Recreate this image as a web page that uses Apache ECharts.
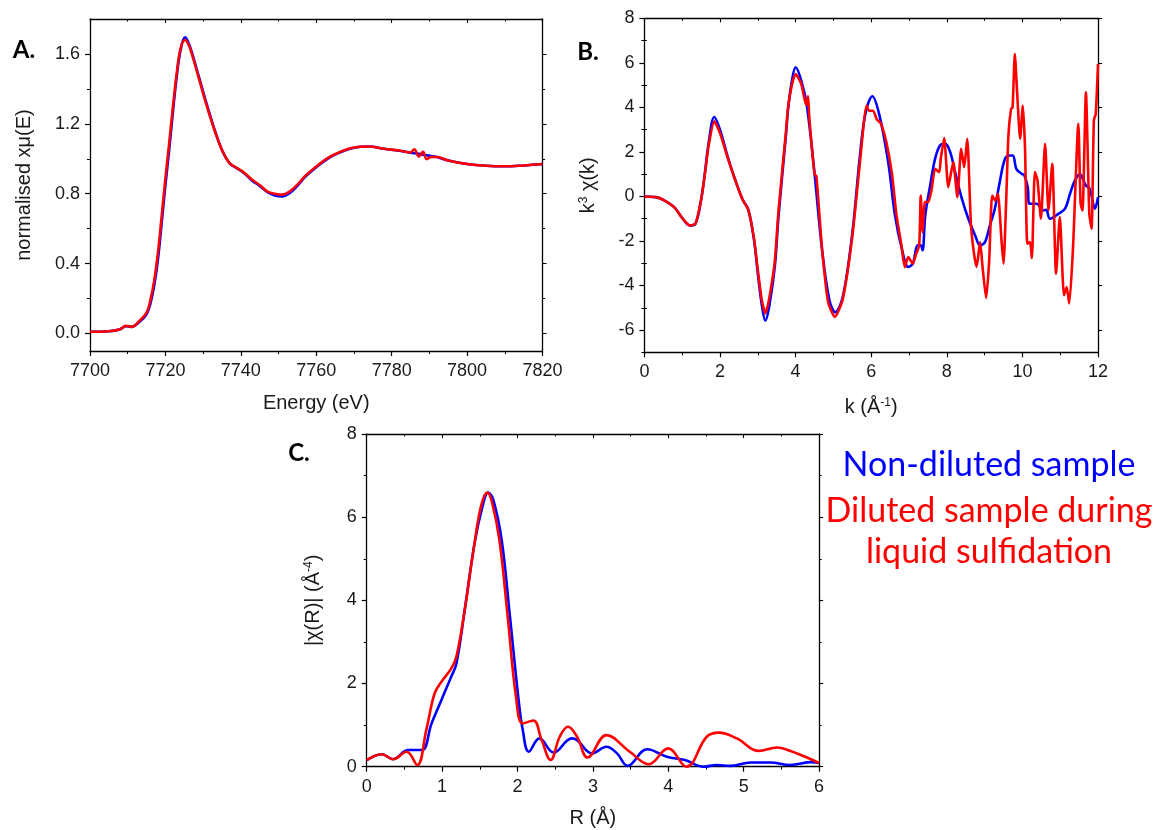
<!DOCTYPE html>
<html>
<head>
<meta charset="utf-8">
<script src="https://cdn.jsdelivr.net/npm/echarts@6/dist/echarts.min.js"></script>
<style>
html,body{margin:0;padding:0;background:#fff;}
#chart{width:1157px;height:830px;}
</style>
</head>
<body>
<div id="chart"></div>
<script>
// ---------- Panel A: normalised XANES ----------
const aEnergy = [7700,7705,7708,7709.5,7711,7713,7715,7716,7717,7718,7719,7720,7721,7722,7723,7724,7725.2,7726,7727,7729,7731,7733,7735,7737,7739,7741,7743,7745,7747,7749,7751,7753,7755,7757,7760,7763,7766,7770,7774,7778,7782,7785,7786,7787.2,7788.3,7789.3,7790.5,7792,7795,7800,7805,7810,7815,7820];
const aBlue   = [0.01,0.013,0.025,0.042,0.038,0.065,0.11,0.17,0.27,0.42,0.63,0.85,1.05,1.27,1.47,1.62,1.695,1.67,1.61,1.46,1.31,1.17,1.05,0.975,0.945,0.915,0.875,0.845,0.81,0.79,0.785,0.805,0.845,0.895,0.952,1.0,1.034,1.063,1.07,1.057,1.046,1.035,1.032,1.028,1.024,1.02,1.016,1.01,0.99,0.97,0.96,0.957,0.962,0.97];
const aRed    = [0.01,0.013,0.025,0.044,0.038,0.07,0.12,0.19,0.30,0.46,0.67,0.89,1.09,1.30,1.49,1.63,1.68,1.66,1.60,1.45,1.30,1.165,1.05,0.975,0.947,0.918,0.88,0.85,0.814,0.80,0.795,0.814,0.852,0.90,0.956,1.004,1.036,1.065,1.07,1.057,1.047,1.036,1.055,1.013,1.04,0.998,1.01,1.01,0.99,0.97,0.96,0.957,0.962,0.97];

// ---------- Panel B: k3-weighted EXAFS ----------
const bKBlue = [0,0.3,0.5,0.8,1.0,1.2,1.35,1.5,1.6,1.7,1.85,2.0,2.2,2.4,2.6,2.75,2.9,3.0,3.1,3.2,3.3,3.45,3.55,3.75,3.8,3.9,4.0,4.15,4.3,4.5,4.7,4.9,5.05,5.25,5.5,5.7,5.85,6.03,6.22,6.45,6.63,6.81,6.98,7.1,7.23,7.31,7.36,7.43,7.56,7.69,7.82,7.96,8.09,8.22,8.4,8.57,8.75,8.88,9.01,9.14,9.27,9.4,9.54,9.67,9.75,9.84,9.98,10.05,10.14,10.19,10.38,10.56,10.63,10.73,10.95,11.13,11.26,11.39,11.52,11.68,11.78,11.92,12.0];
const bBlue  = [0,-0.03,-0.15,-0.5,-0.97,-1.3,-1.23,-0.15,1.05,2.4,3.57,3.0,1.8,0.75,-0.15,-0.6,-1.95,-3.45,-4.8,-5.58,-4.95,-3.15,-0.85,2.85,3.9,5.17,5.8,5.2,4.05,1.05,-2.4,-4.7,-5.2,-4.5,-1.65,1.8,3.75,4.5,3.63,1.54,-0.85,-2.35,-3.17,-3.02,-2.2,-2.2,-2.42,-0.85,0.49,1.69,2.29,2.36,1.99,1.09,-0.11,-1.0,-1.75,-2.2,-2.05,-1.3,-0.55,0.64,1.69,1.84,1.84,1.24,1.02,0.95,0.42,-0.33,-0.33,-0.63,-0.6,-1.0,-0.78,-0.55,0.12,0.72,0.99,0.49,0.35,-0.55,-0.03];
const bKRed  = [0,0.3,0.5,0.8,1.0,1.2,1.35,1.5,1.6,1.7,1.85,2.0,2.2,2.4,2.6,2.75,2.9,3.0,3.1,3.2,3.3,3.45,3.55,3.75,3.8,3.9,4.0,4.15,4.28,4.33,4.36,4.5,4.55,4.7,4.86,5.04,5.25,5.5,5.7,5.88,5.94,6.05,6.15,6.25,6.4,6.55,6.67,6.8,6.89,6.98,7.1,7.19,7.27,7.31,7.36,7.42,7.51,7.6,7.69,7.8,7.84,7.93,8.04,8.17,8.28,8.38,8.46,8.54,8.64,8.72,8.79,8.88,8.95,9.04,9.12,9.2,9.28,9.35,9.45,9.5,9.57,9.63,9.7,9.74,9.8,9.86,9.94,10.01,10.07,10.13,10.2,10.25,10.33,10.4,10.49,10.6,10.69,10.79,10.89,10.99,11.1,11.17,11.24,11.34,11.48,11.54,11.59,11.68,11.77,11.83,11.89,11.94,12.0];
const bRed   = [0,-0.03,-0.15,-0.5,-0.97,-1.3,-1.23,-0.15,1.0,2.3,3.37,2.85,1.75,0.75,-0.15,-0.6,-1.9,-3.3,-4.6,-5.25,-4.6,-2.9,-0.6,3.0,4.0,5.0,5.5,5.05,4.1,4.5,3.6,1.0,0.9,-2.35,-4.74,-5.41,-4.6,-1.8,1.5,4.08,3.85,3.85,3.45,3.3,2.44,1.0,-0.85,-2.2,-3.17,-2.72,-3.02,-2.57,-2.2,0.04,-1.6,-0.25,-0.25,0.34,1.24,1.09,1.69,2.62,0.42,1.54,-0.03,2.14,1.31,2.59,-1.3,-2.57,-3.17,-2.05,-3.24,-4.56,-2.94,0.04,-0.18,0.12,-2.05,-3.02,-0.25,2.74,3.93,3.99,6.4,4.68,2.59,4.08,2.14,-2.12,-2.05,-2.77,1.09,0.72,-1.0,2.36,-0.63,1.47,-3.47,-0.93,-4.44,-4.07,-4.81,-2.27,3.26,-0.33,-0.63,4.68,-0.78,-1.45,3.41,3.71,5.95];

// ---------- Panel C: Fourier transform magnitude ----------
const cRBlue = [0,0.2,0.35,0.55,0.73,0.86,0.99,1.12,1.19,1.3,1.43,1.54,1.61,1.68,1.79,1.9,2.01,2.07,2.15,2.29,2.48,2.72,2.79,2.99,3.18,3.32,3.46,3.72,3.98,4.22,4.47,4.64,4.82,5.09,5.35,5.62,5.9,6.0];
const cBlue  = [0.16,0.3,0.18,0.4,0.4,1.04,1.6,2.16,2.48,3.77,5.37,6.29,6.59,6.41,5.45,3.61,1.68,0.88,0.36,0.68,0.34,0.68,0.64,0.32,0.48,0.32,0.02,0.42,0.24,0.16,0.0,0.04,0.02,0.1,0.1,0.04,0.11,0.09];
const cRRed  = [0,0.2,0.35,0.53,0.67,0.79,0.9,0.99,1.12,1.19,1.3,1.43,1.52,1.6,1.66,1.76,1.87,1.98,2.07,2.21,2.32,2.44,2.56,2.67,2.79,2.93,3.18,3.49,3.74,4.0,4.24,4.51,4.67,4.91,5.2,5.44,5.62,5.8,6.0];
const cRed   = [0.16,0.3,0.18,0.36,0.04,0.88,1.76,2.04,2.36,2.65,3.77,5.37,6.29,6.59,6.37,5.45,3.61,1.68,1.04,1.11,0.64,0.16,0.72,0.96,0.72,0.22,0.76,0.36,0.06,0.44,0.0,0.72,0.82,0.68,0.38,0.46,0.38,0.25,0.09];

// ---------- Tick labels / text ----------
const aYTicks = [0,0.4,0.8,1.2,1.6];
const aYMinor = [0.2,0.6,1.0,1.4];
const bYTicks = [-6,-4,-2,0,2,4,6,8];
const bYMinor = [-7,-5,-3,-1,1,3,5,7];
const legendLines = ['Non-diluted sample','Diluted sample during','liquid sulfidation'];

const BLUE = '#0000ff', RED = '#ff0000';
const FONT = '"Liberation Sans", Arial, sans-serif';
const LBL = {fontSize:18, color:'#1a1a1a', fontFamily:FONT};
const NAME = {fontSize:20, color:'#1a1a1a', fontFamily:FONT,
  rich:{sup:{fontSize:12, fontFamily:FONT, color:'#1a1a1a', padding:[0,0,10,0]}}};
const LINE = {color:'#000', width:1.3};
const plain = v => String(v);

const zip = (xs, ys) => xs.map((x,i)=>[x, ys[i]]);

const xAxis = [], yAxis = [];
function addX(g, o){
  const base = {type:'value', gridIndex:g, min:o.min, max:o.max, interval:o.interval,
    splitLine:{show:false}, minorSplitLine:{show:false}};
  xAxis.push(Object.assign({}, base, {position:'bottom',
    name:o.name, nameLocation:'middle', nameGap:o.nameGap, nameTextStyle:NAME,
    axisLine:{onZero:false, lineStyle:LINE},
    axisTick:{length:5, lineStyle:{color:'#000', width:1.2}},
    minorTick:{show:true, splitNumber:2, length:3, lineStyle:{color:'#000', width:1}},
    axisLabel:Object.assign({margin:11, formatter:plain}, LBL)}));
  const idx = xAxis.length-1;
  xAxis.push(Object.assign({}, base, {position:'top',
    axisLine:{onZero:false, lineStyle:LINE},
    axisTick:{inside:true, length:4, lineStyle:{color:'#000', width:1.1}},
    minorTick:{show:true, splitNumber:2, length:2.5, lineStyle:{color:'#000', width:1}},
    axisLabel:{show:false}}));
  return idx;
}
function addY(g, o){
  const base = {type:'value', gridIndex:g, min:o.min, max:o.max,
    splitLine:{show:false}, minorSplitLine:{show:false}};
  let idx;
  if (o.major){
    yAxis.push(Object.assign({}, base, {position:'left',
      name:o.name, nameLocation:'middle', nameGap:o.nameGap, nameTextStyle:NAME,
      axisLine:{onZero:false, lineStyle:LINE},
      axisTick:{length:5, customValues:o.major, lineStyle:{color:'#000', width:1.2}},
      axisLabel:Object.assign({margin:10, customValues:o.major, formatter:o.fmt}, LBL)}));
    idx = yAxis.length-1;
    yAxis.push(Object.assign({}, base, {position:'left', axisLine:{show:false},
      axisTick:{length:3, customValues:o.minor, lineStyle:{color:'#000', width:1}},
      axisLabel:{show:false}}));
    yAxis.push(Object.assign({}, base, {position:'right',
      axisLine:{onZero:false, lineStyle:LINE},
      axisTick:{length:4, customValues:o.major, lineStyle:{color:'#000', width:1.1}},
      axisLabel:{show:false}}));
    yAxis.push(Object.assign({}, base, {position:'right', axisLine:{show:false},
      axisTick:{length:2.5, customValues:o.minor, lineStyle:{color:'#000', width:1}},
      axisLabel:{show:false}}));
  } else {
    yAxis.push(Object.assign({}, base, {position:'left', interval:o.interval,
      name:o.name, nameLocation:'middle', nameGap:o.nameGap, nameTextStyle:NAME,
      axisLine:{onZero:false, lineStyle:LINE},
      axisTick:{length:5, lineStyle:{color:'#000', width:1.2}},
      minorTick:{show:true, splitNumber:2, length:3, lineStyle:{color:'#000', width:1}},
      axisLabel:Object.assign({margin:10, formatter:plain}, LBL)}));
    idx = yAxis.length-1;
    yAxis.push(Object.assign({}, base, {position:'right', interval:o.interval,
      axisLine:{onZero:false, lineStyle:LINE},
      axisTick:{length:4, lineStyle:{color:'#000', width:1.1}},
      minorTick:{show:true, splitNumber:2, length:2.5, lineStyle:{color:'#000', width:1}},
      axisLabel:{show:false}}));
  }
  return idx;
}

const axA = addX(0, {min:7700, max:7820, interval:20, name:'Energy (eV)', nameGap:42});
const ayA = addY(0, {min:-0.1, max:1.8, major:aYTicks, minor:aYMinor, fmt:v=>Number(v).toFixed(1),
  name:'normalised xμ(E)', nameGap:56});
const axB = addX(1, {min:0, max:12, interval:2, name:'k (Å{sup|-1})', nameGap:44});
const ayB = addY(1, {min:-7, max:8, major:bYTicks, minor:bYMinor, fmt:v=>String(v),
  name:'k{sup|3} χ(k)', nameGap:45});
const axC = addX(2, {min:0, max:6, interval:1, name:'R (Å)', nameGap:42});
const ayC = addY(2, {min:0, max:8, interval:2, name:'|χ(R)| (Å{sup|-4})', nameGap:42});

function line(xi, yi, data, color, smooth){
  return {type:'line', xAxisIndex:xi, yAxisIndex:yi, data, showSymbol:false, symbol:'none',
    smooth, lineStyle:{color, width:2.6}, itemStyle:{color}, animation:false, silent:true};
}

const option = {
  backgroundColor:'#ffffff',
  animation:false,
  grid:[
    {left:90, top:19, width:452.5, height:332},
    {left:644.4, top:18.3, width:453.6, height:334},
    {left:366.7, top:434, width:452.4, height:332.7}
  ],
  xAxis, yAxis,
  series:[
    line(axA, ayA, zip(aEnergy, aBlue), BLUE, 0.4),
    line(axA, ayA, zip(aEnergy, aRed), RED, 0.4),
    line(axB, ayB, zip(bKBlue, bBlue), BLUE, 0.35),
    line(axB, ayB, zip(bKRed, bRed), RED, 0.2),
    line(axC, ayC, zip(cRBlue, cBlue), BLUE, 0.4),
    line(axC, ayC, zip(cRRed, cRed), RED, 0.4)
  ],
  graphic:[
    {type:'text', style:{text:'A.', x:24, y:50, align:'center', verticalAlign:'middle',
      font:'bold 24px Lato, "Liberation Sans", sans-serif', fill:'#000'}},
    {type:'text', style:{text:'B.', x:588, y:52, align:'center', verticalAlign:'middle',
      font:'bold 24px Lato, "Liberation Sans", sans-serif', fill:'#000'}},
    {type:'text', style:{text:'C.', x:299, y:453, align:'center', verticalAlign:'middle',
      font:'bold 24px Lato, "Liberation Sans", sans-serif', fill:'#000'}},
    {type:'text', style:{text:legendLines[0], x:989, y:465, align:'center', verticalAlign:'middle',
      font:'34px Lato, "Open Sans", sans-serif', fill:BLUE}},
    {type:'text', style:{text:legendLines[1], x:989, y:511, align:'center', verticalAlign:'middle',
      font:'34px Lato, "Open Sans", sans-serif', fill:RED}},
    {type:'text', style:{text:legendLines[2], x:989, y:552, align:'center', verticalAlign:'middle',
      font:'34px Lato, "Open Sans", sans-serif', fill:RED}}
  ]
};
const chart = echarts.init(document.getElementById('chart'), null, {renderer:'canvas'});
chart.setOption(option);
</script>
</body>
</html>
